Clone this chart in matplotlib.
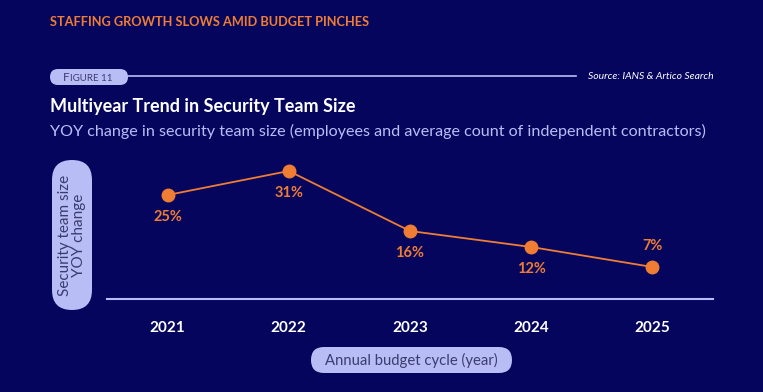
import matplotlib.pyplot as plt
from matplotlib.patches import FancyBboxPatch

years = [2021, 2022, 2023, 2024, 2025]
growth = [25, 31, 16, 12, 7]
label_pos = ['below', 'below', 'below', 'below', 'above']

BG = '#06055e'
ORANGE = '#ef7d33'
LAV = '#b9bdf6'
PILL_TXT = '#3b3d6e'

plt.rcParams['font.family'] = ['Lato', 'DejaVu Sans']

W, H = 763, 392
fig = plt.figure(figsize=(W / 100, H / 100), dpi=100, facecolor=BG)

# overlay in pixel coords for header, pills etc
bg = fig.add_axes([0, 0, 1, 1])
bg.set_xlim(0, W)
bg.set_ylim(H, 0)
bg.axis('off')
bg.set_facecolor(BG)

bg.text(50, 22, 'STAFFING GROWTH SLOWS AMID BUDGET PINCHES', color=ORANGE,
        fontsize=9.2, fontweight='bold', va='center', ha='left')

bg.add_patch(FancyBboxPatch((50, 69), 78, 16, boxstyle='round,pad=0,rounding_size=8',
                            fc=LAV, ec='none'))
bg.text(63, 77.5, 'F', color=PILL_TXT, fontsize=8.5, va='center', ha='left')
bg.text(69.5, 78, 'IGURE 11', color=PILL_TXT, fontsize=7, va='center', ha='left')
bg.plot([128, 576], [76, 76], color=LAV, lw=1.2)
bg.text(714, 76, 'Source: IANS & Artico Search', color='white', fontsize=7.5,
        style='italic', va='center', ha='right')

bg.text(50, 106, 'Multiyear Trend in Security Team Size', color='white',
        fontsize=13, fontweight='bold', va='center', ha='left')
bg.text(50, 131, 'YOY change in security team size (employees and average count of independent contractors)',
        color=LAV, fontsize=11.6, va='center', ha='left')

# y label pill
bg.add_patch(FancyBboxPatch((52, 160), 40, 150, boxstyle='round,pad=0,rounding_size=20',
                            fc=LAV, ec='none'))
bg.text(72, 235, 'Security team size\nYOY change', color=PILL_TXT, fontsize=11,
        rotation=90, va='center', ha='center', linespacing=1.05)

# x label pill
bg.add_patch(FancyBboxPatch((311, 347), 201, 26, boxstyle='round,pad=0,rounding_size=13',
                            fc=LAV, ec='none'))
bg.text(411.5, 360, 'Annual budget cycle (year)', color=PILL_TXT, fontsize=10.7,
        va='center', ha='center')

ax = fig.add_axes([107 / W, (H - 299) / H, 606 / W, 149 / H])
ax.patch.set_alpha(0)
ax.plot(years, growth, color=ORANGE, lw=1.3, marker='o', ms=9, zorder=3)
for x, v, pos in zip(years, growth, label_pos):
    dy = -16 if pos == 'below' else 15
    ax.annotate(f'{v}%', (x, v), xytext=(0, dy), textcoords='offset points',
                ha='center', va='center', color=ORANGE, fontsize=10.5, fontweight='bold')

ax.set_xlim(2020.5, 2025.5)
ax.set_ylim(-1, 36.25)
ax.set_yticks([])
ax.set_xticks(years)
ax.set_xticklabels([str(y) for y in years], color='white', fontsize=11, fontweight='bold')
ax.tick_params(axis='x', length=0, pad=16)
for s in ['top', 'right', 'left']:
    ax.spines[s].set_visible(False)
ax.spines['bottom'].set_color(LAV)
ax.spines['bottom'].set_linewidth(1.5)

fig.savefig('out.png', dpi=100, facecolor=BG)
